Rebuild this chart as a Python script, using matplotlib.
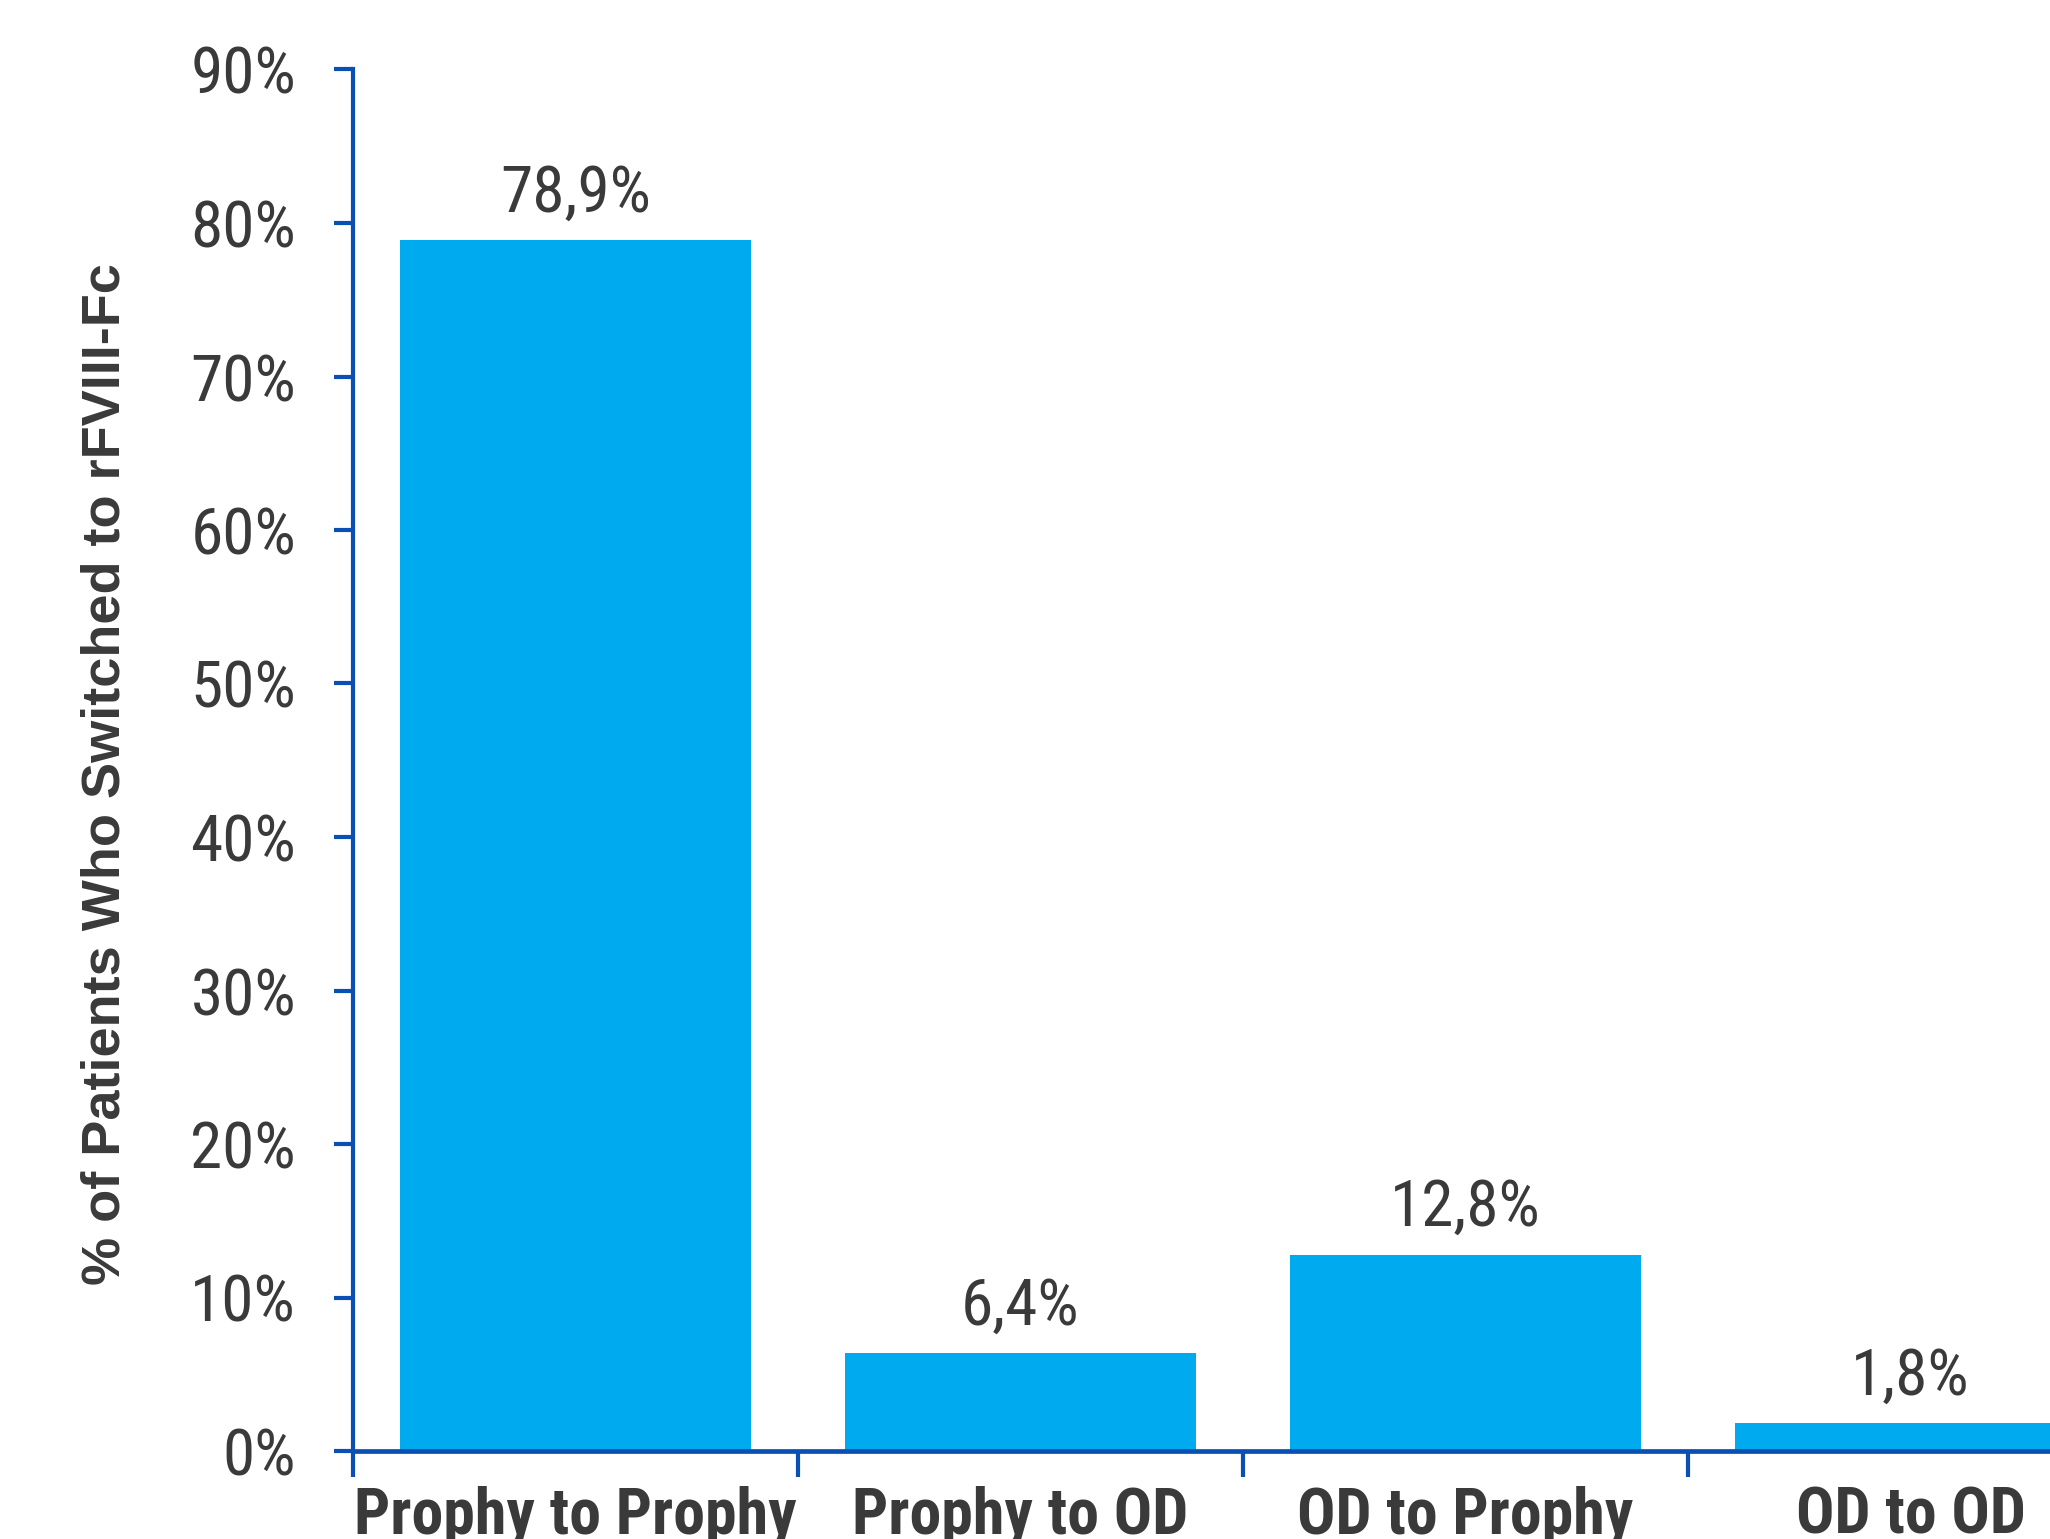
import matplotlib
matplotlib.use("Agg")
import matplotlib.pyplot as plt
from matplotlib import font_manager
import numpy as np

# ── datos ──
categorias = ["Prophy to Prophy", "Prophy to OD", "OD to Prophy", "OD to OD"]
valores    = [78.9, 6.4, 12.8, 1.8]
etiquetas  = ["78,9%", "6,4%", "12,8%", "1,8%"]
yticks     = [0, 10, 20, 30, 40, 50, 60, 70, 80, 90]

AZUL_BARRA = "#00AAEE"
AZUL_EJE   = "#0A50B4"
GRIS_TXT   = "#3A3A3A"

# fuente estrecha tipo Arial Narrow (la primera que exista)
nombres = {f.name for f in font_manager.fontManager.ttflist}
NARROW = next((n for n in ["Liberation Sans Narrow", "Arial Narrow", "Roboto Condensed",
                           "Archivo Narrow", "PT Sans Narrow"] if n in nombres), "Liberation Sans")

fig = plt.figure(figsize=(20.5, 15.39), dpi=100)
# el eje sigue fuera de la figura por la derecha, igual que en el original
ax = fig.add_axes([353/2050, 88/1539, 1780/2050, 1381.5/1539])

x = np.arange(len(categorias)) + 0.5
ax.bar(x, valores, width=0.79, color=AZUL_BARRA, zorder=2)

for xi, v, t in zip(x, valores, etiquetas):
    ax.annotate(t, xy=(xi, v), xytext=(0, 11), textcoords="offset points",
                ha="center", va="bottom", fontsize=47, color=GRIS_TXT,
                family=NARROW)

ax.set_xlim(0, 4)
ax.set_ylim(0, 90)

for s in ["top", "right"]:
    ax.spines[s].set_visible(False)
ax.spines["left"].set_color(AZUL_EJE)
ax.spines["left"].set_linewidth(3)
ax.spines["bottom"].set_color(AZUL_EJE)
ax.spines["bottom"].set_linewidth(3.4)

ax.set_yticks(yticks)
ax.set_yticklabels([f"{v}%" for v in yticks], fontsize=47, color=GRIS_TXT, family=NARROW)
ax.tick_params(axis="y", direction="out", length=14, width=3, color=AZUL_EJE, pad=27)

ax.set_xticks([0, 1, 2, 3, 4])
ax.set_xticklabels([])
ax.tick_params(axis="x", which="major", direction="out", length=19, width=3, color=AZUL_EJE)
ax.set_xticks(x, minor=True)
ax.set_xticklabels(categorias, minor=True, fontsize=46, fontweight="bold",
                   color=GRIS_TXT, family=NARROW)
ax.tick_params(axis="x", which="minor", length=0, pad=25)

fig.text(106/2050, 1 - 774.5/1539, "% of Patients Who Switched to rFVIII-Fc",
         rotation=90, ha="center", va="center", fontsize=39, fontweight="bold",
         color=GRIS_TXT, family="Liberation Sans")

fig.savefig("out.png", dpi=100, facecolor="white")
